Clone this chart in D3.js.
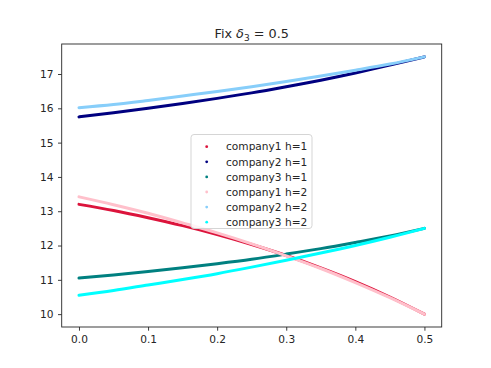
<!DOCTYPE html>
<html><head><meta charset="utf-8">
<script src="https://cdn.jsdelivr.net/npm/d3@7"></script>
<style>body{margin:0;background:#fff}svg{display:block;font-family:"DejaVu Sans",sans-serif}</style>
</head><body><svg id="c" width="491" height="368"></svg>
<script>
const xs = [0,0.05,0.1,0.15,0.2,0.25,0.3,0.35,0.4,0.45,0.5];
const company1_h1 = [13.20,13.02,12.81,12.58,12.32,12.03,11.71,11.35,10.95,10.50,10.00];
const company2_h1 = [15.75,15.87,16.00,16.14,16.29,16.45,16.63,16.82,17.03,17.26,17.50];
const company3_h1 = [11.05,11.14,11.24,11.35,11.47,11.60,11.75,11.91,12.09,12.28,12.50];
const company1_h2 = [13.42,13.19,12.94,12.66,12.37,12.05,11.70,11.33,10.92,10.48,10.00];
const company2_h2 = [16.02,16.11,16.23,16.36,16.49,16.63,16.78,16.94,17.11,17.29,17.50];
const company3_h2 = [10.55,10.69,10.85,11.01,11.18,11.37,11.57,11.78,12.00,12.24,12.50];
const seriesNames = ["company1 h=1","company2 h=1","company3 h=1","company1 h=2","company2 h=2","company3 h=2"];
const seriesColors = ["crimson","navy","teal","pink","lightskyblue","cyan"];
const xTicks = [0,0.1,0.2,0.3,0.4,0.5];
const yTicks = [10,11,12,13,14,15,16,17];
const allSeries = [company1_h1,company2_h1,company3_h1,company1_h2,company2_h2,company3_h2];

const svg = d3.select("#c");
const L=61.7,R=441.7,T=44,B=327;
const x = d3.scaleLinear().domain([-0.025,0.525]).range([L,R]);
const y = d3.scaleLinear().domain([9.625,17.875]).range([B,T]);
const fs = 10.6;

const line = d3.line().x((d,i)=>x(xs[i])).y(d=>y(d)).curve(d3.curveMonotoneX);
allSeries.forEach((s,k)=>{
  svg.append("path").attr("d",line(s)).attr("fill","none")
    .attr("stroke",seriesColors[k]).attr("stroke-width",3).attr("stroke-linecap","round");
});

const xa = svg.append("g").attr("transform",`translate(0,${B})`)
  .call(d3.axisBottom(x).tickValues(xTicks).tickFormat(d3.format(".1f")).tickSizeOuter(0).tickSize(3.7).tickPadding(4.5));
const ya = svg.append("g").attr("transform",`translate(${L},0)`)
  .call(d3.axisLeft(y).tickValues(yTicks).tickFormat(d3.format("d")).tickSizeOuter(0).tickSize(3.7).tickPadding(4.5));
[xa,ya].forEach(a=>{
  a.select(".domain").remove();
  a.selectAll("text").attr("font-size",fs).attr("fill","#262626").attr("font-family","DejaVu Sans");
  a.selectAll("line").attr("stroke","#262626").attr("stroke-width",0.9);
});
svg.append("rect").attr("x",L).attr("y",T).attr("width",R-L).attr("height",B-T)
  .attr("fill","none").attr("stroke","#262626").attr("stroke-width",0.9);

// title
const t = svg.append("text").attr("x",(L+R)/2).attr("y",38).attr("text-anchor","middle")
  .attr("font-size",12.8).attr("fill","#262626");
t.append("tspan").text("Fix ");
t.append("tspan").attr("font-style","italic").text("δ");
t.append("tspan").attr("font-size",9).attr("dy",2.5).text("3");
t.append("tspan").attr("dy",-2.5).text(" = 0.5");

// legend
const lg = svg.append("g");
lg.append("rect").attr("x",191).attr("y",134.5).attr("width",121).attr("height",94).attr("rx",3)
  .attr("fill","#fff").attr("fill-opacity",0.8).attr("stroke","#d0d0d0").attr("stroke-width",0.9);
seriesNames.forEach((n,i)=>{
  const cy = 146.7 + i*15.1;
  lg.append("circle").attr("cx",206.7).attr("cy",cy).attr("r",1.4).attr("fill",seriesColors[i]);
  lg.append("text").attr("x",226).attr("y",cy).attr("dy","0.35em").attr("font-size",fs)
    .attr("fill","#262626").text(n);
});
</script></body></html>
